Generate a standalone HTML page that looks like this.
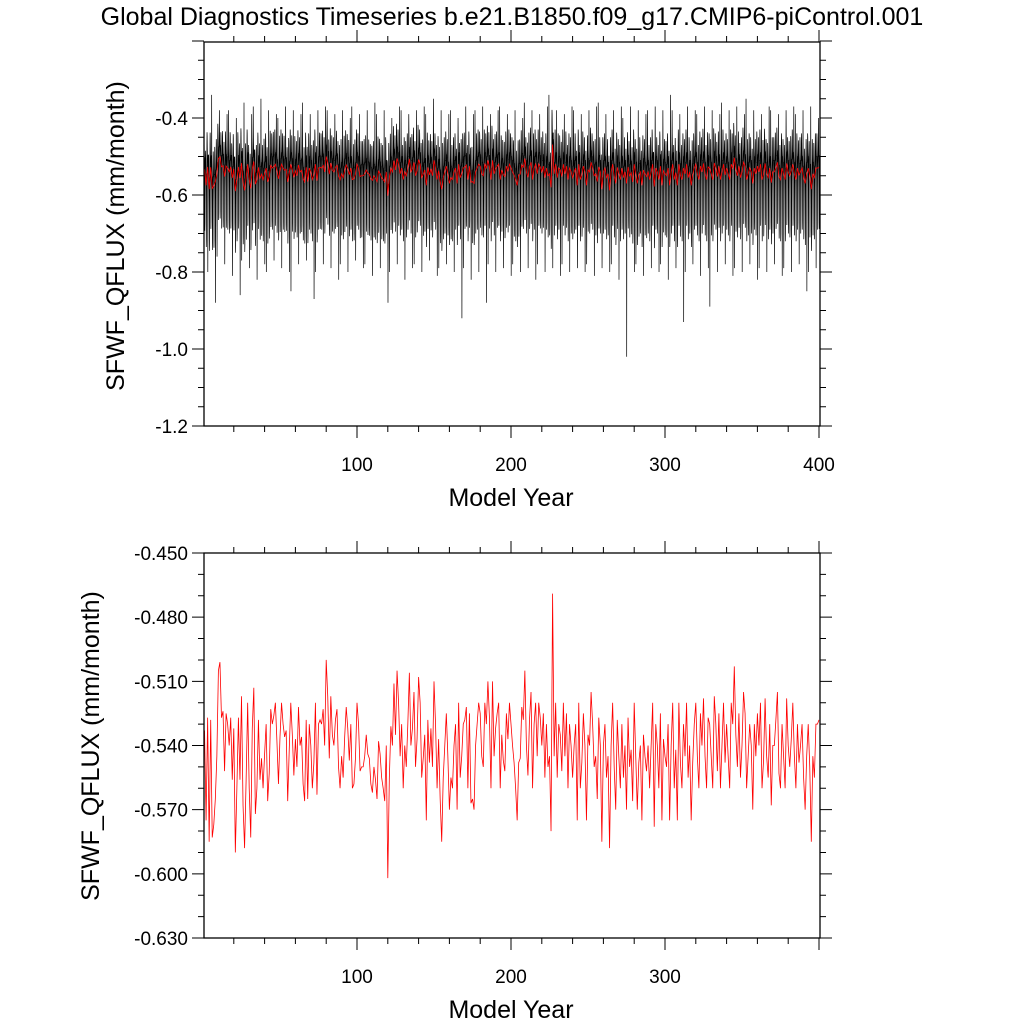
<!DOCTYPE html>
<html><head><meta charset="utf-8"><style>
html,body{margin:0;padding:0;background:#fff;}
svg{display:block;font-family:"Liberation Sans",sans-serif;}
</style></head><body>
<svg id="chart" width="1024" height="1024" viewBox="0 0 1024 1024" xmlns="http://www.w3.org/2000/svg">
<rect width="1024" height="1024" fill="#fff"/>
<text x="512" y="25" font-size="25" text-anchor="middle">Global Diagnostics Timeseries b.e21.B1850.f09_g17.CMIP6-piControl.001</text>
<g id="top"></g>
<g id="bot"></g>
</svg>
<script>
// annual means (mm/month), years 1..400
const annualMean = [
-0.533,-0.575,-0.527,-0.585,-0.528,-0.583,-0.577,-0.565,-0.545,-0.505,-0.501,-0.527,-0.524,-0.552,-0.525,-0.530,-0.540,-0.527,-0.556,-0.532,
-0.590,-0.560,-0.527,-0.556,-0.517,-0.568,-0.588,-0.556,-0.520,-0.560,-0.583,-0.532,-0.513,-0.572,-0.560,-0.528,-0.556,-0.546,-0.560,-0.544,
-0.530,-0.566,-0.553,-0.523,-0.530,-0.526,-0.520,-0.538,-0.558,-0.536,-0.520,-0.530,-0.536,-0.533,-0.566,-0.542,-0.520,-0.535,-0.554,-0.537,
-0.550,-0.522,-0.540,-0.536,-0.558,-0.566,-0.528,-0.565,-0.530,-0.540,-0.560,-0.548,-0.520,-0.563,-0.530,-0.528,-0.530,-0.523,-0.540,-0.500,
-0.517,-0.546,-0.517,-0.535,-0.540,-0.528,-0.523,-0.550,-0.560,-0.545,-0.555,-0.536,-0.522,-0.532,-0.547,-0.530,-0.560,-0.558,-0.546,-0.520,
-0.530,-0.552,-0.550,-0.550,-0.545,-0.535,-0.544,-0.546,-0.558,-0.562,-0.550,-0.556,-0.565,-0.538,-0.544,-0.555,-0.560,-0.566,-0.540,-0.602,
-0.555,-0.531,-0.540,-0.511,-0.535,-0.505,-0.520,-0.545,-0.530,-0.560,-0.540,-0.550,-0.530,-0.506,-0.540,-0.532,-0.515,-0.550,-0.537,-0.508,
-0.520,-0.555,-0.546,-0.535,-0.575,-0.528,-0.548,-0.532,-0.550,-0.510,-0.530,-0.560,-0.537,-0.565,-0.585,-0.555,-0.540,-0.525,-0.545,-0.570,
-0.555,-0.560,-0.540,-0.530,-0.570,-0.520,-0.555,-0.545,-0.530,-0.528,-0.522,-0.560,-0.525,-0.567,-0.565,-0.570,-0.540,-0.530,-0.520,-0.525,
-0.545,-0.550,-0.520,-0.530,-0.510,-0.527,-0.560,-0.510,-0.545,-0.532,-0.525,-0.520,-0.560,-0.535,-0.547,-0.552,-0.525,-0.537,-0.520,-0.530,
-0.540,-0.548,-0.560,-0.575,-0.548,-0.546,-0.522,-0.528,-0.505,-0.540,-0.554,-0.528,-0.515,-0.560,-0.530,-0.520,-0.545,-0.520,-0.527,-0.540,
-0.525,-0.555,-0.530,-0.550,-0.545,-0.580,-0.469,-0.545,-0.520,-0.555,-0.530,-0.535,-0.552,-0.520,-0.545,-0.525,-0.560,-0.530,-0.540,-0.555,
-0.540,-0.530,-0.575,-0.520,-0.560,-0.548,-0.525,-0.540,-0.575,-0.535,-0.540,-0.515,-0.530,-0.550,-0.545,-0.565,-0.527,-0.540,-0.585,-0.540,
-0.530,-0.555,-0.545,-0.588,-0.540,-0.520,-0.550,-0.570,-0.528,-0.545,-0.560,-0.530,-0.555,-0.540,-0.570,-0.527,-0.550,-0.542,-0.566,-0.520,
-0.545,-0.570,-0.548,-0.540,-0.575,-0.535,-0.545,-0.552,-0.540,-0.560,-0.540,-0.520,-0.578,-0.530,-0.540,-0.560,-0.525,-0.575,-0.537,-0.545,
-0.550,-0.530,-0.575,-0.540,-0.520,-0.560,-0.542,-0.575,-0.520,-0.548,-0.560,-0.530,-0.545,-0.520,-0.555,-0.540,-0.575,-0.548,-0.530,-0.520,
-0.545,-0.560,-0.525,-0.540,-0.518,-0.545,-0.560,-0.527,-0.530,-0.545,-0.560,-0.517,-0.530,-0.552,-0.525,-0.560,-0.540,-0.520,-0.548,-0.530,
-0.545,-0.560,-0.520,-0.530,-0.503,-0.535,-0.550,-0.525,-0.555,-0.540,-0.515,-0.525,-0.560,-0.545,-0.530,-0.540,-0.570,-0.530,-0.545,-0.525,
-0.540,-0.520,-0.560,-0.547,-0.518,-0.545,-0.555,-0.530,-0.568,-0.540,-0.540,-0.528,-0.515,-0.553,-0.560,-0.530,-0.545,-0.560,-0.518,-0.540,
-0.550,-0.537,-0.520,-0.545,-0.560,-0.530,-0.548,-0.540,-0.530,-0.555,-0.570,-0.545,-0.530,-0.550,-0.585,-0.545,-0.555,-0.530,-0.530,-0.528
];
// typical seasonal offset by month (added to annual mean)
const seasonalOffset = [0.06,0.09,0.08,0.05,0.03,0.01,-0.05,-0.16,-0.14,-0.03,0.03,0.03];
// per 4-year block monthly extremes (100 blocks)
const blockHigh = [
-0.40,-0.34,-0.38,-0.39,-0.38,-0.40,-0.36,-0.39,-0.37,-0.35,-0.38,-0.39,-0.40,-0.37,-0.38,-0.39,-0.36,-0.39,-0.38,-0.37,
-0.38,-0.39,-0.38,-0.40,-0.37,-0.39,-0.38,-0.36,-0.39,-0.38,-0.40,-0.37,-0.38,-0.39,-0.38,-0.37,-0.39,-0.35,-0.38,-0.39,
-0.38,-0.40,-0.37,-0.39,-0.38,-0.37,-0.39,-0.38,-0.37,-0.39,-0.38,-0.40,-0.36,-0.38,-0.39,-0.37,-0.34,-0.38,-0.39,-0.37,
-0.38,-0.39,-0.38,-0.37,-0.36,-0.39,-0.38,-0.37,-0.40,-0.37,-0.38,-0.39,-0.38,-0.37,-0.38,-0.34,-0.38,-0.39,-0.37,-0.38,
-0.39,-0.37,-0.38,-0.39,-0.36,-0.38,-0.37,-0.39,-0.35,-0.38,-0.39,-0.37,-0.38,-0.39,-0.38,-0.37,-0.39,-0.38,-0.37,-0.40
];
const blockLow = [
-0.80,-0.88,-0.76,-0.78,-0.81,-0.86,-0.77,-0.79,-0.82,-0.78,-0.80,-0.77,-0.79,-0.80,-0.85,-0.78,-0.77,-0.87,-0.80,-0.78,
-0.79,-0.82,-0.78,-0.80,-0.77,-0.79,-0.78,-0.81,-0.79,-0.88,-0.80,-0.78,-0.82,-0.79,-0.78,-0.80,-0.77,-0.81,-0.79,-0.78,
-0.80,-0.92,-0.79,-0.82,-0.80,-0.88,-0.78,-0.80,-0.79,-0.81,-0.78,-0.80,-0.79,-0.82,-0.78,-0.80,-0.79,-0.81,-0.78,-0.80,
-0.79,-0.80,-0.78,-0.81,-0.79,-0.80,-0.78,-0.82,-1.02,-0.80,-0.78,-0.81,-0.79,-0.80,-0.78,-0.82,-0.79,-0.93,-0.80,-0.78,
-0.81,-0.79,-0.89,-0.80,-0.78,-0.81,-0.79,-0.80,-0.78,-0.82,-0.79,-0.80,-0.78,-0.81,-0.79,-0.80,-0.78,-0.85,-0.80,-0.79
];
const topYTicks = [-1.2,-1.0,-0.8,-0.6,-0.4];
const topYLabels = ["-1.2","-1.0","-0.8","-0.6","-0.4"];
const botYTicks = [-0.63,-0.60,-0.57,-0.54,-0.51,-0.48,-0.45];
const botYLabels = ["-0.630","-0.600","-0.570","-0.540","-0.510","-0.480","-0.450"];
const topXTicks = [100,200,300,400];
const botXTicks = [100,200,300];

const NS="http://www.w3.org/2000/svg";
const L=204,R=820;
const xS=yr=>203+1.54*yr;
const topY=v=>426-(v+1.2)*385;
const botY=v=>938-(v+0.63)/0.18*385;
function mk(tag,parent){const e=document.createElementNS(NS,tag);parent.appendChild(e);return e;}
function axes(g,T,B,yFn,ymin,ymax,ymajor,yminor,ylabs,yticks,xt){
  const f=mk('rect',g);
  
  
  f.setAttribute('x',L);f.setAttribute('y',T);f.setAttribute('width',R-L);f.setAttribute('height',B-T);
  f.setAttribute('fill','none');f.setAttribute('stroke','#000');f.setAttribute('stroke-width','1.3');
  let d='';
  const nMin=Math.round((ymax-ymin)/yminor);
  for(let i=0;i<=nMin;i++){const v=ymin+i*yminor;const y=yFn(v);const maj=Math.abs((v-ymin)/ymajor-Math.round((v-ymin)/ymajor))<1e-6;const len=maj?12:6;
    d+=`M${L} ${y}H${L-len}M${R} ${y}H${R+len}`;}
  for(let yr=20;yr<=400;yr+=20){const x=xS(yr);if(x>R+0.5)continue;const len=yr%100==0?12:6;d+=`M${x} ${B}V${B+len}M${x} ${T}V${T-len}`;}
  const tk=mk('path',g);
  
  
  tk.setAttribute('d',d);tk.setAttribute('stroke','#000');tk.setAttribute('stroke-width','1');
  yticks.forEach((v,i)=>{const t=mk('text',g);
    
    
    t.setAttribute('x',L-16);t.setAttribute('y',yFn(v)+7);t.setAttribute('font-size','19');t.setAttribute('text-anchor','end');t.textContent=ylabs[i];});
  xt.forEach(v=>{const t=mk('text',g);
    
    
    t.setAttribute('x',xS(v));t.setAttribute('y',B+45);t.setAttribute('font-size','19');t.setAttribute('text-anchor','middle');t.textContent=String(v);});
  const xl=mk('text',g);
  
  
  xl.setAttribute('x',511);xl.setAttribute('y',B+80);xl.setAttribute('font-size','25');xl.setAttribute('text-anchor','middle');xl.textContent='Model Year';
}
function redLine(g,yFn){
  let d='';annualMean.forEach((v,i)=>{d+=(i?'L':'M')+xS(i+1).toFixed(2)+' '+yFn(v).toFixed(2);});
  const p=mk('path',g);
  
  
  p.setAttribute('d',d);p.setAttribute('fill','none');p.setAttribute('stroke','#f00');p.setAttribute('stroke-width','0.8');
}
// top panel
const gt=document.getElementById('top');
let d='';let first=true;
annualMean.forEach((m,i)=>{
  const b=Math.floor(i/4),k=i%4;
  seasonalOffset.forEach((s,mo)=>{
    let v=m+s;
    if(mo===1&&k===(b%4))v=blockHigh[b];
    if(mo===7&&k===((b+2)%4))v=blockLow[b];
    const x=xS(i+1+(mo+0.5)/12-0.5);
    d+=(first?'M':'L')+x.toFixed(2)+' '+topY(v).toFixed(2);first=false;
  });
});
const ml=mk('path',gt);


ml.setAttribute('d',d);ml.setAttribute('fill','none');ml.setAttribute('stroke','#000');ml.setAttribute('stroke-width','0.7');
redLine(gt,topY);
axes(gt,42,426,topY,-1.2,-0.2,0.2,0.05,topYLabels,topYTicks,topXTicks);
const yt=mk('text',gt);


yt.setAttribute('transform','translate(124,236) rotate(-90)');yt.setAttribute('font-size','25');yt.setAttribute('text-anchor','middle');yt.textContent='SFWF_QFLUX (mm/month)';
// bottom panel
const gb=document.getElementById('bot');
redLine(gb,botY);
axes(gb,553,938,botY,-0.63,-0.45,0.03,0.01,botYLabels,botYTicks,botXTicks);
const yb=mk('text',gb);


yb.setAttribute('transform','translate(99,746) rotate(-90)');yb.setAttribute('font-size','25');yb.setAttribute('text-anchor','middle');yb.textContent='SFWF_QFLUX (mm/month)';
</script>
</body></html>
